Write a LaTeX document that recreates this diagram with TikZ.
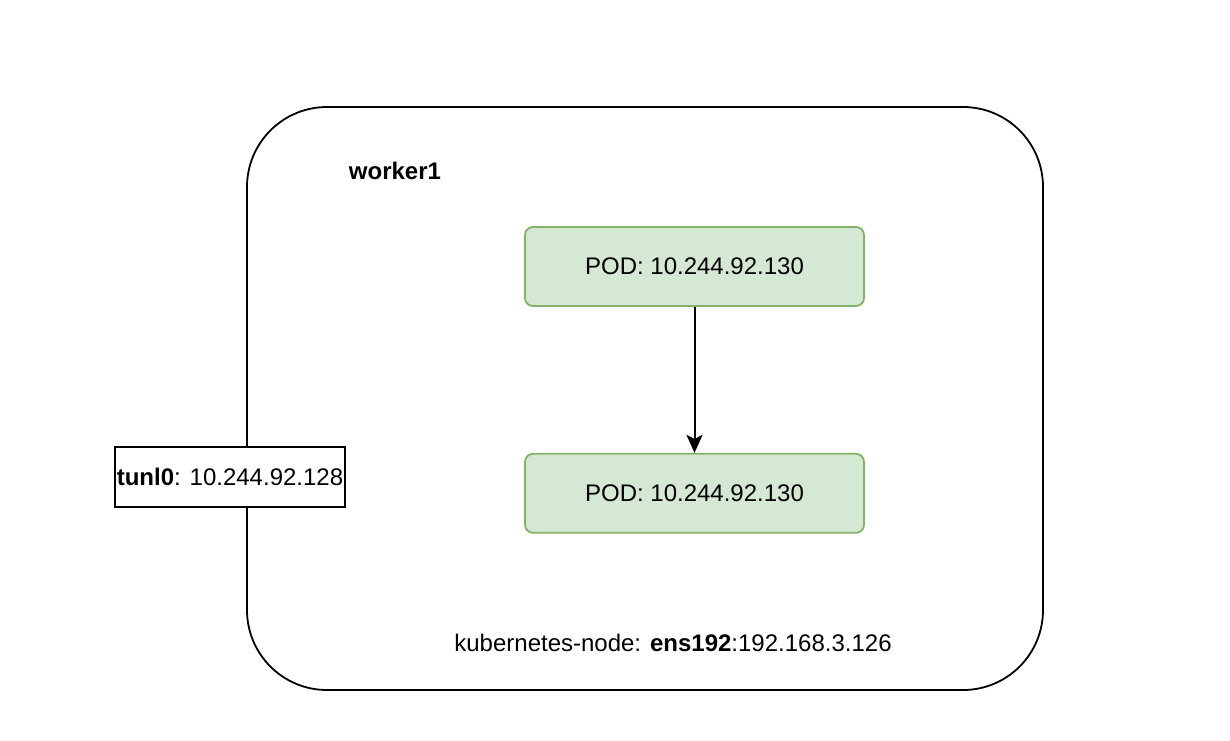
\documentclass[tikz,border=0pt]{standalone}
\usepackage{fontspec}
\setmainfont{Liberation Sans}
\usetikzlibrary{arrows.meta,positioning}
\definecolor{podfill}{HTML}{D5E8D4}
\definecolor{podline}{HTML}{82B366}

\begin{document}
\begin{tikzpicture}[
  x=0.5pt,y=-0.5pt,
  font=\fontsize{12pt}{14pt}\selectfont,
  host/.style={draw,line width=0.9pt,rounded corners=40pt,
               minimum width=398pt,minimum height=291.5pt,inner sep=0pt},
  pod/.style={draw=podline,fill=podfill,line width=0.9pt,rounded corners=4pt,
              minimum width=169.5pt,minimum height=39.5pt},
  iface/.style={draw,fill=white,line width=0.9pt,
                minimum width=115pt,minimum height=30pt,inner sep=1pt},
  arr/.style={-{Stealth[length=9pt,width=8pt,inset=2pt]},line width=1pt}
]
\useasboundingbox (0,0) rectangle (1230,740);

% worker node
\node[host] (worker) at (645,398.5) {};
\node[font=\fontsize{12pt}{14pt}\selectfont\bfseries] (wname) at (395,171) {worker1};

% pods
\node[pod] (pod1) at (694.5,266.5) {POD: 10.244.92.130};
\node[pod,below=73pt of pod1] (pod2) {POD: 10.244.92.130};

% interfaces
\node[iface] (tunl) at (230,477) {\textbf{tunl0}: 10.244.92.128};
\node (ens) at (673,643) {kubernetes-node: \textbf{ens192}:192.168.3.126};

\draw[arr] (pod1) -- (pod2);
\end{tikzpicture}
\end{document}
